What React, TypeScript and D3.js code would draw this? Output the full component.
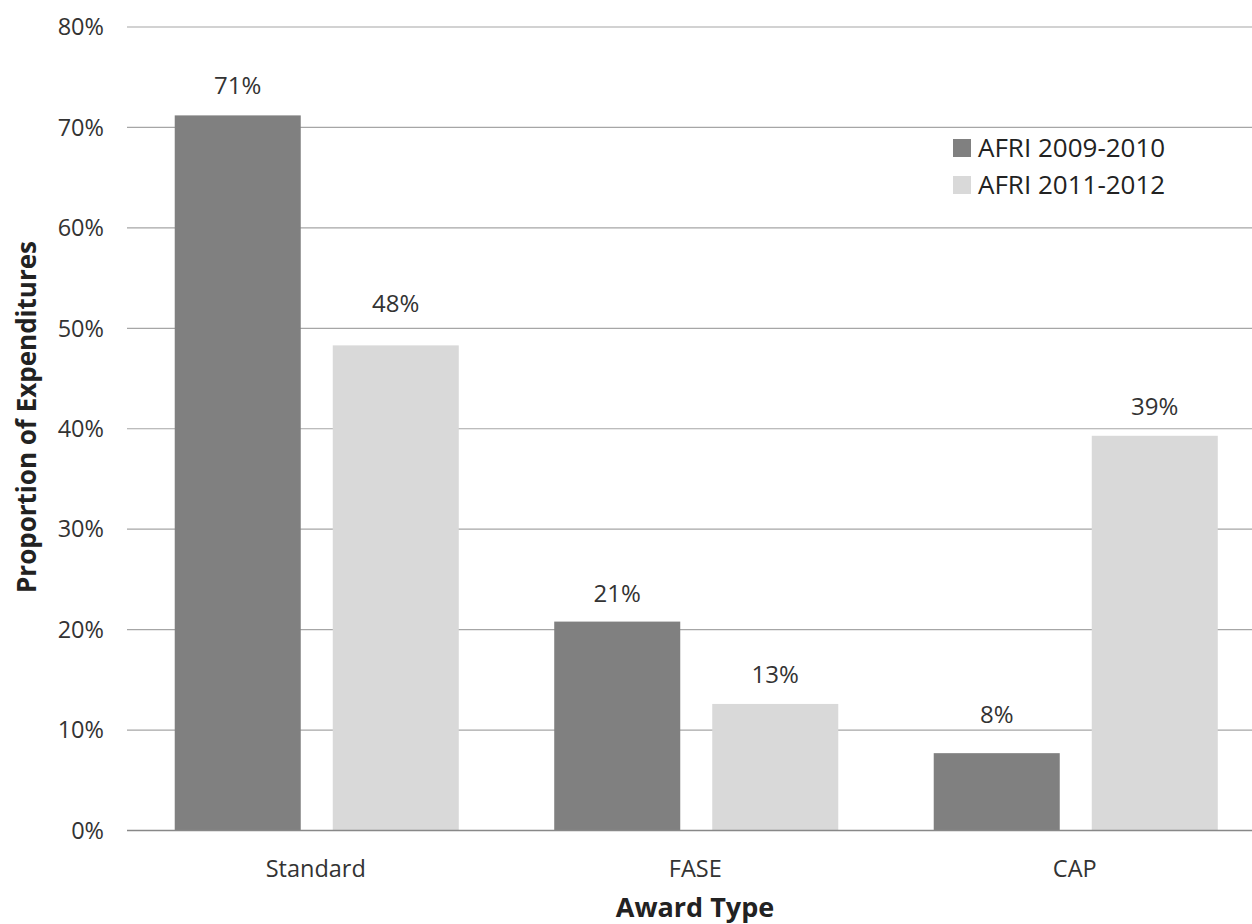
import React from "react";
import * as d3 from "d3";

const categories = ["Standard", "FASE", "CAP"];
const seriesNames = ["AFRI 2009-2010", "AFRI 2011-2012"];
const afri2009 = [0.712, 0.208, 0.077];
const afri2011 = [0.483, 0.126, 0.393];
const yTicks = [0, 0.1, 0.2, 0.3, 0.4, 0.5, 0.6, 0.7, 0.8];
const colors = ["#808080", "#D9D9D9"];
// vertical gap (px) between each data label baseline and its bar top
const labelLift = [
  [21, 20, 30],
  [33, 21, 21],
];

const W = 1252;
const H = 924;
const FONT = "'Open Sans', 'Noto Sans', sans-serif";

export default function App() {
  const left = 127;
  const step = 379.5;
  const x = d3.scaleBand<string>().domain(categories).range([left, left + step * categories.length]).padding(0);
  const xs = d3.scaleBand<string>().domain(seriesNames).range([0, x.bandwidth()]).paddingInner(0.2025).paddingOuter(0.302);
  const y = d3.scaleLinear().domain([0, 0.8]).range([830.5, 27]);
  const series = [afri2009, afri2011];
  const pct = d3.format(".0%");

  return (
    <svg width={W} height={H} style={{ position: "absolute", left: 0, top: 0, background: "#fff" }} fontFamily={FONT}>
      {yTicks.map((t) => (
        <g key={t}>
          {t > 0 && (
            <line x1={left} x2={W} y1={y(t)} y2={y(t)} stroke="#A6A6A6" strokeWidth={1.2} />
          )}
          <text x={104} y={y(t)} dy="0.35em" textAnchor="end" fontSize={23.5} fill="#333">
            {pct(t)}
          </text>
        </g>
      ))}
      {series.map((vals, si) =>
        categories.map((c, ci) => {
          const bx = (x(c) as number) + (xs(seriesNames[si]) as number);
          const bw = xs.bandwidth();
          return (
            <g key={c + si}>
              <rect x={bx} y={y(vals[ci])} width={bw} height={y(0) - y(vals[ci])} fill={colors[si]} />
              <text x={bx + bw / 2} y={y(vals[ci]) - labelLift[si][ci]} textAnchor="middle" fontSize={24} fill="#333">
                {pct(vals[ci])}
              </text>
            </g>
          );
        })
      )}
      <line x1={left} x2={W} y1={y(0)} y2={y(0)} stroke="#888" strokeWidth={1.5} />
      {categories.map((c) => (
        <text key={c} x={(x(c) as number) + x.bandwidth() / 2 - 1} y={877} textAnchor="middle" fontSize={23.5} fill="#333">
          {c}
        </text>
      ))}
      <text x={695} y={917} textAnchor="middle" fontSize={27} fontWeight="bold" fill="#222">
        Award Type
      </text>
      <text transform={`translate(36, 417) rotate(-90)`} textAnchor="middle" fontSize={26} fontWeight="bold" fill="#222">
        Proportion of Expenditures
      </text>
      {seriesNames.map((s, i) => (
        <g key={s} transform={`translate(953, ${148 + i * 37})`}>
          <rect x={0} y={-9} width={18} height={18} fill={colors[i]} />
          <text x={25} y={0} dy="0.35em" fontSize={26} fill="#222">
            {s}
          </text>
        </g>
      ))}
    </svg>
  );
}
